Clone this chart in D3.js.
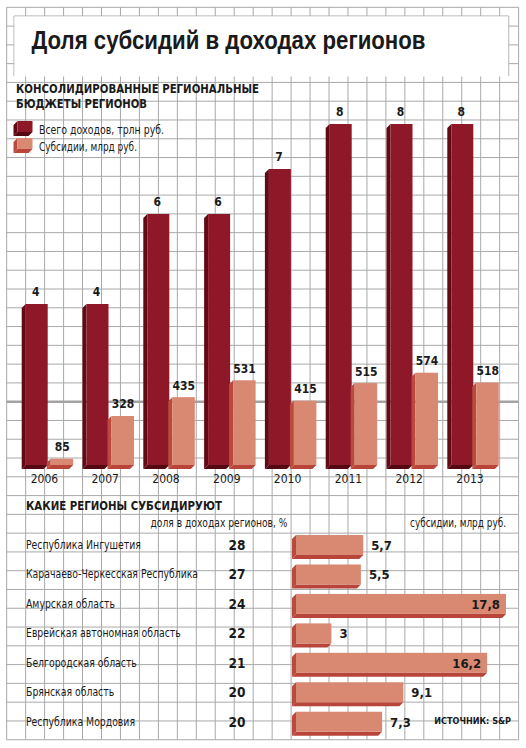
<!DOCTYPE html>
<html>
<head>
<meta charset="utf-8">
<script src="https://cdn.jsdelivr.net/npm/d3@7"></script>
<style>
  body { margin: 0; background: #fff; }
  text { font-family: 'Liberation Sans Narrow', 'DejaVu Sans Condensed', 'Liberation Sans', sans-serif; fill: #1a1a1a; }
</style>
</head>
<body>
<div id="chart"></div>
<script>
var years = ["2006", "2007", "2008", "2009", "2010", "2011", "2012", "2013"];
var income = [4, 4, 6, 6, 7, 8, 8, 8];              // трлн руб.
var subsidies = [85, 328, 435, 531, 415, 515, 574, 518]; // млрд руб.

var regions = ["Республика Ингушетия", "Карачаево-Черкесская Республика", "Амурская область",
  "Еврейская автономная область", "Белгородская область", "Брянская область", "Республика Мордовия"];
var shares = [28, 27, 24, 22, 21, 20, 20];
var regionSubsidies = [5.7, 5.5, 17.8, 3, 16.2, 9.1, 7.3];

var W = 526, H = 748;
var fontMain = "'Liberation Sans Narrow', 'DejaVu Sans Condensed', 'Liberation Sans', sans-serif";
var dark = "#8e1828", darkSide = "#620914", darkBottom = "#540812";
var light = "#d98872", lightSide = "#bb4a3e", lightBottom = "#b8443a";

var svg = d3.select("#chart").append("svg")
  .attr("width", W)
  .attr("height", H);

// grid
var gx = d3.range(0, 28).map(function(i) { return 6.7 + i * 18.96; });
var gy = d3.range(0, 40).map(function(i) { return 7.3 + i * 18.78; });
svg.append("g").selectAll("line").data(gx).enter().append("line")
  .attr("x1", d => d).attr("x2", d => d)
  .attr("y1", gy[0]).attr("y2", gy[gy.length - 1])
  .attr("stroke", "#a9a9a9").attr("stroke-width", 1);
svg.append("g").selectAll("line").data(gy).enter().append("line")
  .attr("x1", gx[0]).attr("x2", gx[gx.length - 1])
  .attr("y1", d => d).attr("y2", d => d)
  .attr("stroke", "#a9a9a9").attr("stroke-width", 1);
// thicker line across the chart
svg.append("line")
  .attr("x1", gx[0]).attr("x2", gx[gx.length - 1])
  .attr("y1", 401.7).attr("y2", 401.7)
  .attr("stroke", "#a3a3a3").attr("stroke-width", 2.5);

// title box
svg.append("path")
  .attr("d", "M14,76 L14,16 L508.7,16 L508.7,76")
  .attr("fill", "#fff")
  .attr("stroke", "#a9a9a9");
svg.append("rect").attr("x", 14.5).attr("y", 16.5).attr("width", 493.7).attr("height", 60).attr("fill", "#fff");

svg.append("text")
  .attr("x", 31.5).attr("y", 48.5)
  .attr("font-size", 26).attr("font-weight", 900)
  .style("font-family", "'Liberation Sans', 'DejaVu Sans', sans-serif")
  .attr("textLength", 394).attr("lengthAdjust", "spacingAndGlyphs")
  .text("Доля субсидий в доходах регионов");

// subtitle
svg.append("text").attr("x", 16).attr("y", 93.3)
  .attr("font-size", 12.5).attr("font-weight", 600)
  .attr("textLength", 243).attr("lengthAdjust", "spacingAndGlyphs")
  .text("КОНСОЛИДИРОВАННЫЕ РЕГИОНАЛЬНЫЕ");
svg.append("text").attr("x", 16).attr("y", 107.7)
  .attr("font-size", 12.5).attr("font-weight", 600)
  .attr("textLength", 131).attr("lengthAdjust", "spacingAndGlyphs")
  .text("БЮДЖЕТЫ РЕГИОНОВ");

// 3d box helper: front rect plus left side and bottom faces, depth toward lower-left
var dep = 4;
function box(g, x0, y0, w, h, front, side, bottom) {
  g.append("path")
    .attr("d", "M" + x0 + "," + y0 + "L" + (x0 - dep) + "," + (y0 + dep) +
      "L" + (x0 - dep) + "," + (y0 + h + dep) + "L" + x0 + "," + (y0 + h) + "Z")
    .attr("fill", side);
  g.append("path")
    .attr("d", "M" + x0 + "," + (y0 + h) + "L" + (x0 + w) + "," + (y0 + h) +
      "L" + (x0 + w - dep) + "," + (y0 + h + dep) + "L" + (x0 - dep) + "," + (y0 + h + dep) + "Z")
    .attr("fill", bottom);
  g.append("rect")
    .attr("x", x0).attr("y", y0).attr("width", w).attr("height", h)
    .attr("fill", front);
}

// legend
var leg = svg.append("g");
box(leg, 17.5, 121, 15, 11, dark, darkSide, darkBottom);
box(leg, 17.5, 138, 15, 11, light, lightSide, lightBottom);
leg.append("text").attr("x", 39).attr("y", 134).attr("font-size", 11.5)
  .attr("textLength", 125).attr("lengthAdjust", "spacingAndGlyphs")
  .text("Всего доходов, трлн руб.");
leg.append("text").attr("x", 39).attr("y", 150.5).attr("font-size", 11.5)
  .attr("textLength", 98).attr("lengthAdjust", "spacingAndGlyphs")
  .text("Субсидии, млрд руб.");

// column chart
var base = 465;
var x = d3.scaleBand().domain(years).range([22.4, 22.4 + 60.8 * 8]);
var yInc = d3.scaleLinear().domain([0, 8]).range([484, 124]);
var ySub = d3.scaleLinear().domain([0, 574]).range([473.7, 372.7]);
var bw = 22;

var cols = svg.append("g");
years.forEach(function(yr, i) {
  var xd = x(yr) + 3.3, xs = x(yr) + 28.3;
  box(cols, xd, yInc(income[i]), bw, base - yInc(income[i]), dark, darkSide, darkBottom);
  box(cols, xs, ySub(subsidies[i]), bw + 0.5, base - ySub(subsidies[i]), light, lightSide, lightBottom);
  cols.append("text").attr("x", xd + bw / 2 - 1).attr("y", yInc(income[i]) - 8)
    .attr("text-anchor", "middle").attr("font-size", 12).attr("font-weight", 600)
    .text(d3.format("d")(income[i]));
  cols.append("text").attr("x", xs + bw / 2 + 0.5).attr("y", ySub(subsidies[i]) - 7.5)
    .attr("text-anchor", "middle").attr("font-size", 12).attr("font-weight", 600)
    .text(subsidies[i]);
});

var xAxis = svg.append("g")
  .attr("transform", "translate(-8.4," + 471 + ")")
  .call(d3.axisBottom(x).tickSize(0).tickPadding(3));
xAxis.attr("font-family", null);
xAxis.select(".domain").remove();
xAxis.selectAll("text")
  .attr("font-size", 12)
  .style("font-family", fontMain)
  .style("fill", "#1a1a1a");

// regions table
svg.append("text").attr("x", 26).attr("y", 510)
  .attr("font-size", 12.5).attr("font-weight", 600)
  .attr("textLength", 196).attr("lengthAdjust", "spacingAndGlyphs")
  .text("КАКИЕ РЕГИОНЫ СУБСИДИРУЮТ");
svg.append("text").attr("x", 287.5).attr("y", 526.7).attr("text-anchor", "end")
  .attr("font-size", 11.5)
  .attr("textLength", 137).attr("lengthAdjust", "spacingAndGlyphs")
  .text("доля в доходах регионов, %");
svg.append("text").attr("x", 506).attr("y", 526.7).attr("text-anchor", "end")
  .attr("font-size", 11.5)
  .attr("textLength", 96).attr("lengthAdjust", "spacingAndGlyphs")
  .text("субсидии, млрд руб.");

var yRow = d3.scaleBand().domain(regions).range([530.3, 530.3 + 29.45 * 7]);
var xSub = d3.scaleLinear().domain([0, 17.8]).range([296, 506]);
var fmt = d3.formatLocale({decimal: ",", thousands: " ", grouping: [3], currency: ["", ""]}).format(".1f");

var rows = svg.append("g");
regions.forEach(function(r, i) {
  var cy = yRow(r) + yRow.bandwidth() / 2;
  var name = rows.append("text").attr("x", 26).attr("y", cy + 4)
    .attr("font-size", 11.5).text(r);
  // the original face is narrower than the fallback
  name.attr("textLength", name.node().getComputedTextLength() * 0.9)
    .attr("lengthAdjust", "spacingAndGlyphs");
  rows.append("text").attr("x", 245.5).attr("y", cy + 5).attr("text-anchor", "end")
    .attr("font-size", 13.5).attr("font-weight", 600).text(shares[i]);
  var v = regionSubsidies[i];
  var w = xSub(v) - xSub(0);
  box(rows, xSub(0), cy - 10, w, 20, light, lightSide, lightBottom);
  var inside = w > 150;
  rows.append("text")
    .attr("x", inside ? xSub(v) - 6 : xSub(v) + 8)
    .attr("y", cy + 5)
    .attr("text-anchor", inside ? "end" : "start")
    .attr("font-size", 13).attr("font-weight", 600)
    .text(v % 1 === 0 ? d3.format("d")(v) : fmt(v));
});

svg.append("text").attr("x", 511).attr("y", 723.5).attr("text-anchor", "end")
  .attr("font-size", 9).attr("font-weight", 600)
  .text("ИСТОЧНИК: S&P");
</script>
</body>
</html>
